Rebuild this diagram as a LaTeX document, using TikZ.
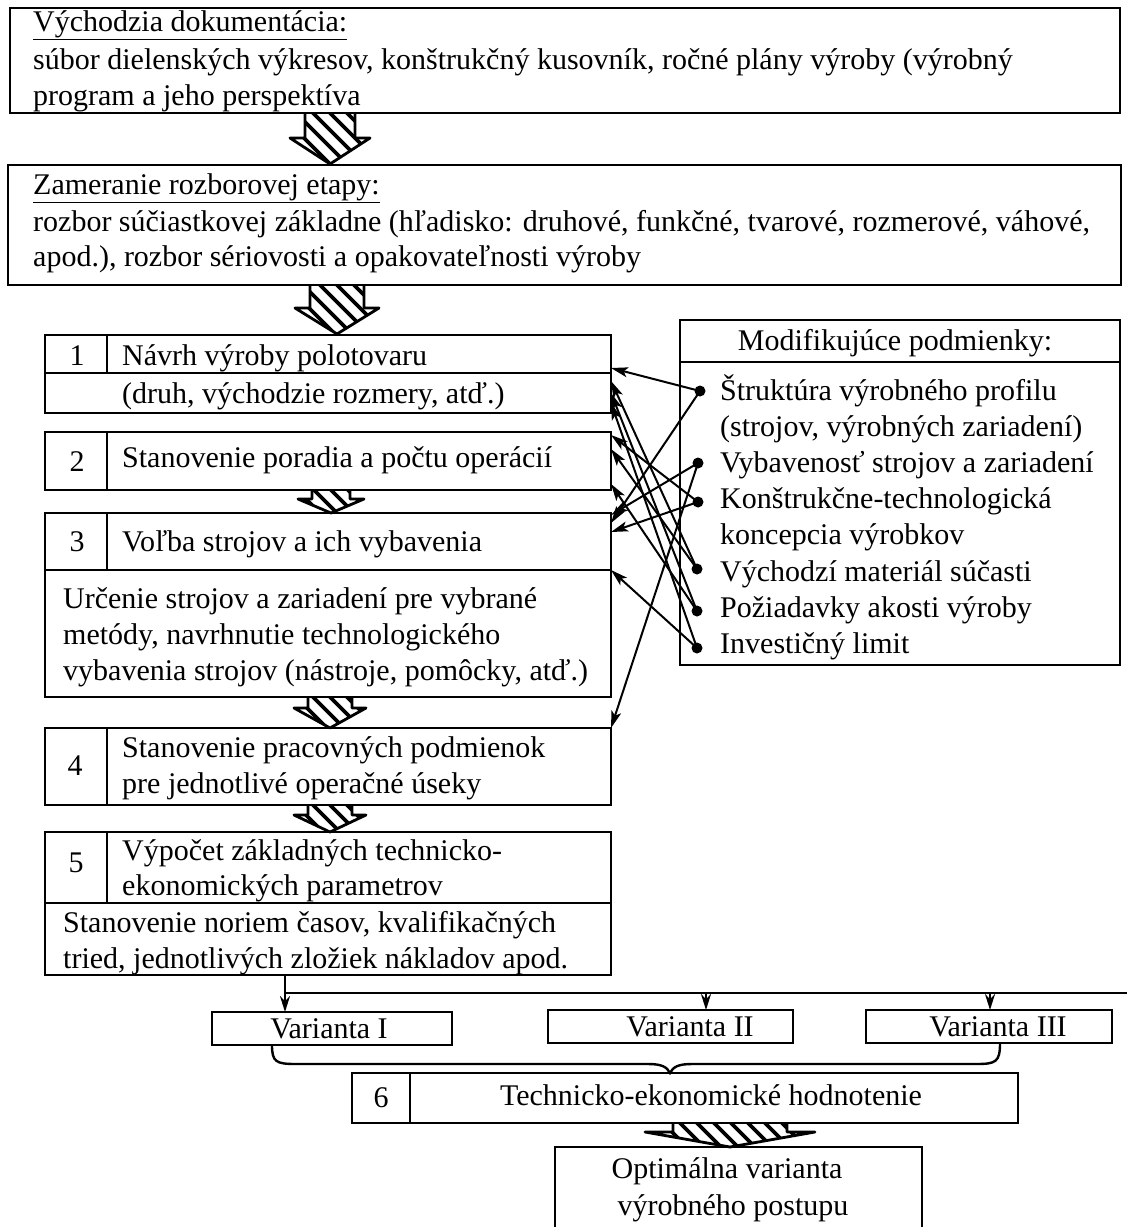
\documentclass[tikz,border=0pt]{standalone}
\usepackage{fontspec}
\setmainfont{Liberation Serif}
\usetikzlibrary{arrows.meta,calc}

% hatched block arrow pointing down:
% #1 centre x, #2 top y, #3 neck y, #4 tip y, #5 shaft half width, #6 head half width
\newcommand\hatchdown[6]{%
  \begin{scope}
    \clip (#1-#5,#2) -- (#1+#5,#2) -- (#1+#5,#3) -- (#1+#6,#3) -- (#1,#4)
          -- (#1-#6,#3) -- (#1-#5,#3) -- cycle;
    \foreach \k in {-12,...,10}
      \draw[line width=3.6pt] ({#1+(\k)*17-150},{#2-150}) -- ({#1+(\k)*17+150},{#2+150});
  \end{scope}
  \draw[line width=2.8pt, line join=round]
    (#1-#5,#2) -- (#1-#5,#3) -- (#1-#6,#3) -- (#1,#4) -- (#1+#6,#3) -- (#1+#5,#3) -- (#1+#5,#2);
}

\begin{document}
\begin{tikzpicture}[x=1pt,y=-1pt,
  box/.style={draw, line width=2.8pt, inner sep=0pt, outer sep=0pt, anchor=north west},
  txt/.style={inner sep=0pt, anchor=base west, font=\fontsize{30}{36}\selectfont},
  ctxt/.style={inner sep=0pt, anchor=base, font=\fontsize{30}{36}\selectfont},
  rule/.style={line width=2.8pt},
  link/.style={line width=2pt, -{Stealth[length=17pt,width=10pt,inset=4pt]}},
  dot/.style={circle, fill, inner sep=0pt, minimum size=11pt},
  feed/.style={line width=2.4pt, -{Stealth[length=16pt,width=10pt]}},
  brace/.style={line width=2.4pt},
]
\useasboundingbox (0,0) rectangle (1127,1227);

% ---- source documents
\node[box, minimum width=1110pt, minimum height=105pt] (doc) at (10,8) {};
\node[txt] (doc-t) at (33,31) {\underline{Východzia dokumentácia:}};
\node[txt] (doc-a) at (33,69) {súbor dielenských výkresov, konštrukčný kusovník, ročné plány výroby (výrobný};
\node[txt] (doc-b) at (33,105) {program a jeho perspektíva};

% ---- analysis stage
\node[box, minimum width=1113pt, minimum height=120pt] (ana) at (8,165) {};
\node[txt] (ana-t) at (33,194) {\underline{Zameranie rozborovej etapy:}};
\node[txt] (ana-a) at (33,231) {rozbor súčiastkovej základne (hľadisko: druhové, funkčné, tvarové, rozmerové, váhové,};
\node[txt] (ana-b) at (33,266) {apod.), rozbor sériovosti a opakovateľnosti výroby};

% ---- step 1
\node[box, minimum width=566pt, minimum height=78pt] (b1) at (45,335) {};
\draw[rule] ($(b1.north west)+(0,38)$) -- ($(b1.north east)+(0,38)$);
\draw[rule] ($(b1.north west)+(62,0)$) -- ++(0,38);
\node[ctxt] (n1) at (77,365) {1};
\node[txt] (b1-a) at (122,365) {Návrh výroby polotovaru};
\node[txt] (b1-b) at (122,403) {(druh, východzie rozmery, atď.)};

% ---- step 2
\node[box, minimum width=566pt, minimum height=58pt] (b2) at (45,432) {};
\draw[rule] ($(b2.north west)+(62,0)$) -- ($(b2.south west)+(62,0)$);
\node[ctxt] (n2) at (77,471) {2};
\node[txt] (b2-a) at (122,467) {Stanovenie poradia a počtu operácií};

% ---- step 3
\node[box, minimum width=566pt, minimum height=184pt] (b3) at (45,513) {};
\draw[rule] ($(b3.north west)+(0,57)$) -- ($(b3.north east)+(0,57)$);
\draw[rule] ($(b3.north west)+(62,0)$) -- ++(0,57);
\node[ctxt] (n3) at (77,551) {3};
\node[txt] (b3-a) at (122,551) {Voľba strojov a ich vybavenia};
\node[txt] (b3-b) at (63,608) {Určenie strojov a zariadení pre vybrané};
\node[txt] (b3-c) at (63,644) {metódy, navrhnutie technologického};
\node[txt] (b3-d) at (63,680) {vybavenia strojov (nástroje, pomôcky, atď.)};

% ---- step 4
\node[box, minimum width=566pt, minimum height=77pt] (b4) at (45,728) {};
\draw[rule] ($(b4.north west)+(62,0)$) -- ($(b4.south west)+(62,0)$);
\node[ctxt] (n4) at (75,775) {4};
\node[txt] (b4-a) at (122,757) {Stanovenie pracovných podmienok};
\node[txt] (b4-b) at (122,793) {pre jednotlivé operačné úseky};

% ---- step 5
\node[box, minimum width=566pt, minimum height=143pt] (b5) at (45,832) {};
\draw[rule] ($(b5.north west)+(0,71)$) -- ($(b5.north east)+(0,71)$);
\draw[rule] ($(b5.north west)+(62,0)$) -- ++(0,71);
\node[ctxt] (n5) at (76,872) {5};
\node[txt] (b5-a) at (122,860) {Výpočet základných technicko-};
\node[txt] (b5-b) at (122,895) {ekonomických parametrov};
\node[txt] (b5-c) at (63,932) {Stanovenie noriem časov, kvalifikačných};
\node[txt] (b5-d) at (63,968) {tried, jednotlivých zložiek nákladov apod.};

% ---- modifying conditions
\node[box, minimum width=440pt, minimum height=345pt] (mod) at (680,320) {};
\draw[rule] ($(mod.north west)+(0,42)$) -- ($(mod.north east)+(0,42)$);
\node[ctxt] (mod-t) at (895,350) {Modifikujúce podmienky:};
\node[txt] (m1a) at (720,400) {Štruktúra výrobného profilu};
\node[txt] (m1b) at (720,436) {(strojov, výrobných zariadení)};
\node[txt] (m2)  at (720,472) {Vybavenosť strojov a zariadení};
\node[txt] (m3a) at (720,508) {Konštrukčne-technologická};
\node[txt] (m3b) at (720,544) {koncepcia výrobkov};
\node[txt] (m4)  at (720,581) {Východzí materiál súčasti};
\node[txt] (m5)  at (720,617) {Požiadavky akosti výroby};
\node[txt] (m6)  at (720,653) {Investičný limit};

\node[dot] (s1) at (700,391) {};
\node[dot] (s2) at (698,463) {};
\node[dot] (s3) at (698,502) {};
\node[dot] (s4) at (697,569) {};
\node[dot] (s5) at (697,611) {};
\node[dot] (s6) at (697,648) {};

% influence of the conditions on the steps
\draw[link] (s1.center) -- ($(b1.north east)+(0,33)$);
\draw[link] (s1.center) -- ($(b3.north east)+(0,10)$);
\draw[link] (s2.center) -- ($(b3.north east)+(0,2)$);
\draw[link] (s2.center) -- (b4.north east);
\draw[link] (s3.center) -- ($(b3.north east)+(0,19)$);
\draw[link] (s3.center) -- ($(b2.north east)+(0,3)$);
\draw[link] (s4.center) -- ($(b1.north east)+(0,46)$);
\draw[link] (s4.center) -- ($(b2.north east)+(0,17)$);
\draw[link] (s5.center) -- ($(b2.north east)+(0,52)$);
\draw[link] (s5.center) -- ($(b1.north east)+(0,58)$);
\draw[link] (s6.center) -- ($(b3.north east)+(0,57)$);
\draw[link] (s6.center) -- ($(b1.north east)+(0,68)$);

% ---- variants
\node[box, minimum width=240pt, minimum height=33pt] (v1) at (212,1012) {};
\node[box, minimum width=245pt, minimum height=33pt] (v2) at (548,1010) {};
\node[box, minimum width=246pt, minimum height=33pt] (v3) at (866,1010) {};
\node[ctxt] (v1-t) at (329,1038) {Varianta I};
\node[ctxt] (v2-t) at (690,1036) {Varianta II};
\node[ctxt] (v3-t) at (998,1036) {Varianta III};

\coordinate (bus1) at (285,993);
\coordinate (bus2) at (706,993);
\coordinate (bus3) at (990,993);
\coordinate (busend) at (1127,993);
\draw[brace] (b5.south -| bus1) -- (bus1) -- (busend);
\draw[feed] (bus1) -- (v1.north -| bus1);
\draw[feed] (bus2) -- (v2.north -| bus2);
\draw[feed] (bus3) -- (v3.north -| bus3);

% ---- evaluation
\node[box, minimum width=666pt, minimum height=50pt] (ev) at (352,1073) {};
\draw[rule] ($(ev.north west)+(58,0)$) -- ($(ev.south west)+(58,0)$);
\node[ctxt] (n6) at (381,1107) {6};
\node[ctxt] (ev-t) at (711,1105) {Technicko-ekonomické hodnotenie};

% brace gathering the variants
\coordinate (brL) at (272,1045);
\coordinate (brR) at (1000,1043);
\coordinate (brT) at (670,1073);
\draw[brace] (v1.south -| brL) .. controls (272,1062) and (276,1064) .. (296,1064)
  -- (648,1064) .. controls (662,1064) and (667,1067) .. (brT)
  .. controls (673,1067) and (678,1064) .. (692,1064)
  -- (976,1064) .. controls (996,1064) and (1000,1062) .. (v3.south -| brR);

% ---- optimum
\node[box, minimum width=367pt, minimum height=110pt] (opt) at (555,1147) {};
\node[ctxt] (opt-a) at (727,1178) {Optimálna varianta};
\node[ctxt] (opt-b) at (733,1215) {výrobného postupu};

% ---- hatched flow arrows
\hatchdown{330}{113}{138}{164}{25}{40}
\hatchdown{337}{285}{308}{334}{27}{42}
\hatchdown{331}{490}{499}{513}{19}{33}
\hatchdown{330}{697}{708}{728}{22}{36}
\hatchdown{330}{805}{815}{832}{22}{36}
\hatchdown{730}{1122}{1132}{1147}{57}{85}
\end{tikzpicture}
\end{document}
